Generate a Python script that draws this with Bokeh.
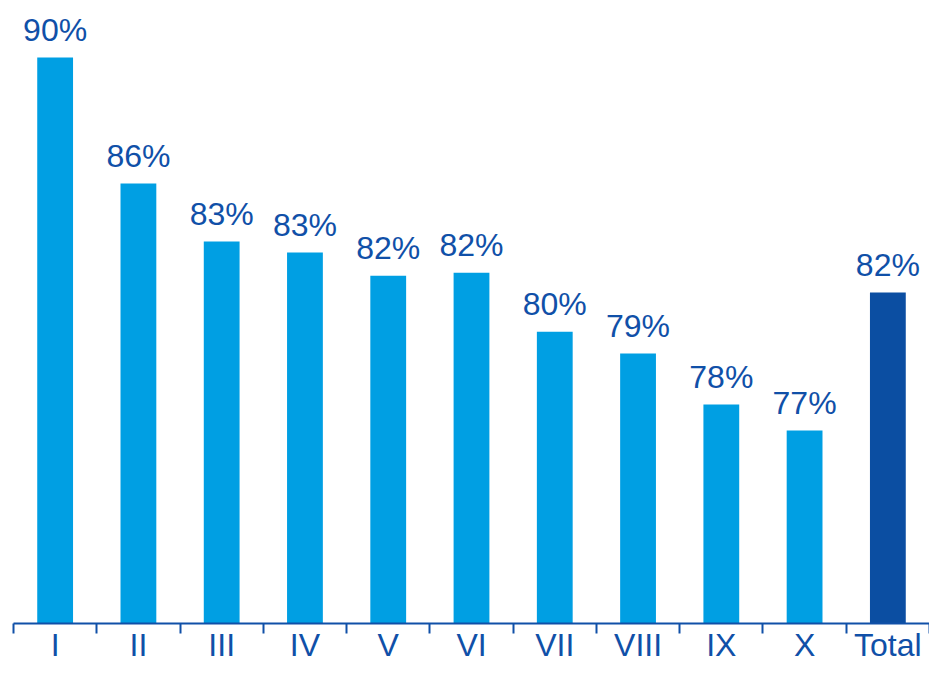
from bokeh.plotting import figure
from bokeh.models import Range1d, LinearAxis, FixedTicker, ColumnDataSource
from bokeh.core.properties import value
from bokeh.embed import file_html
from bokeh.resources import INLINE

categories = ["I", "II", "III", "IV", "V", "VI", "VII", "VIII", "IX", "X", "Total"]
values = [90.25, 85.75, 83.68, 83.29, 82.46, 82.57, 80.46, 79.68, 77.86, 76.93, 81.86]
labels = ["90%", "86%", "83%", "83%", "82%", "82%", "80%", "79%", "78%", "77%", "82%"]
bar_colors = ["#009FE3"] * 10 + ["#0B4EA2"]

TEXT = "#1050A8"
FONT = "Liberation Sans"

W, H = 929, 665
frame_h = 623
px_per_unit = 28.0
y_start = 70.04
y_end = y_start + frame_h / px_per_unit

x = [i + 0.5 for i in range(len(categories))]
src = ColumnDataSource(dict(x=x, top=values, label=labels, color=bar_colors))

p = figure(width=W, height=H, output_backend="svg", toolbar_location=None,
           x_range=Range1d(0, len(categories)),
           y_range=Range1d(y_start, y_end),
           x_axis_type=None, y_axis_type=None,
           min_border_left=13, min_border_right=0, min_border_top=0,
           min_border_bottom=0)
p.outline_line_color = None

p.vbar(x="x", top="top", bottom=y_start, width=0.43, fill_color="color",
       line_color=None, source=src)

p.text(x="x", y="top", text="label", source=src, text_align="center",
       text_baseline="middle", y_offset=-28, text_font=value(FONT),
       text_font_size="32px", text_color=TEXT)

ax = LinearAxis(
    ticker=FixedTicker(ticks=x, minor_ticks=list(range(len(categories) + 1))),
    major_label_overrides={xi: c for xi, c in zip(x, categories)},
    axis_line_color=TEXT, axis_line_width=2,
    major_tick_line_color=None, major_tick_out=0, major_tick_in=0,
    minor_tick_line_color=TEXT, minor_tick_line_width=2,
    minor_tick_out=10, minor_tick_in=0,
    major_label_text_font=FONT, major_label_text_font_size="32px",
    major_label_text_color=TEXT, major_label_standoff=-7,
)
p.add_layout(ax, "below")

open("out.html", "w").write(file_html(p, INLINE))
